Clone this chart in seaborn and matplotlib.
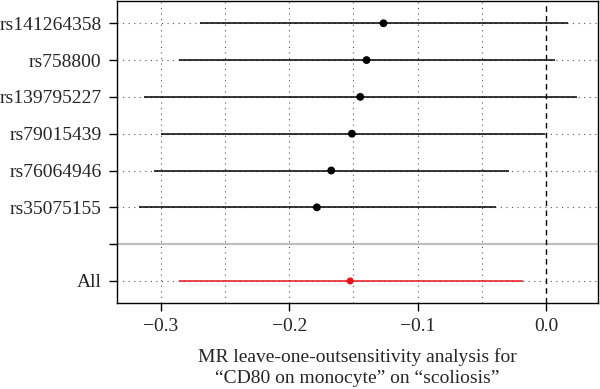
import matplotlib
matplotlib.use("Agg")
import matplotlib.pyplot as plt
import seaborn as sns
import pandas as pd

# leave-one-out estimates
snps = ["rs141264358", "rs758800", "rs139795227", "rs79015439",
        "rs76064946", "rs35075155", "All"]
b = [-0.1266, -0.1398, -0.1447, -0.1512, -0.1673, -0.1785, -0.1525]
lo = [-0.2698, -0.2861, -0.3134, -0.2996, -0.3056, -0.3173, -0.2861]
hi = [0.0174, 0.0070, 0.0239, -0.0005, -0.0286, -0.0392, -0.0182]
ypos = [8, 7, 6, 5, 4, 3, 1]
xticks = [-0.3, -0.2, -0.1, 0.0]

df = pd.DataFrame({"snp": snps, "b": b, "lo": lo, "hi": hi, "y": ypos})
df["kind"] = ["snp"] * 6 + ["all"]

sns.set_theme(style="white")
plt.rcParams["font.family"] = ["Liberation Serif", "DejaVu Serif"]
plt.rcParams["axes.unicode_minus"] = True

fig = plt.figure(figsize=(6, 3.89), dpi=100)
ax = fig.add_axes([0.1945, 0.221, 0.802, 0.776])

# dotted guide lines
for gx in [-0.3, -0.25, -0.2, -0.15, -0.1, -0.05]:
    ax.axvline(gx, color="#555555", lw=0.8, ls=(0, (1, 4)), zorder=0)
for gy in ypos:
    ax.axhline(gy, color="#555555", lw=0.8, ls=(0, (1, 4)), zorder=0)
ax.axhline(2, color="#bebebe", lw=1.6, zorder=1)
ax.axvline(0, color="black", lw=1.0, ls=(0, (4, 3)), zorder=1)

colors = {"snp": "black", "all": "#e8141c"}
for kind, sub in df.groupby("kind"):
    ax.hlines(sub["y"], sub["lo"], sub["hi"], color=colors[kind], lw=1.1, zorder=2)
sns.scatterplot(data=df[df.kind == "snp"], x="b", y="y", color="black", s=32,
                edgecolor="none", ax=ax, zorder=3, legend=False)
sns.scatterplot(data=df[df.kind == "all"], x="b", y="y", color="#e8141c", s=26,
                edgecolor="none", ax=ax, zorder=3, legend=False)

ax.set_xlim(-0.3345, 0.0405)
ax.set_ylim(0.4, 8.6)
ax.set_xticks(xticks)
ax.set_xticklabels([f"{v:.1f}".replace("-", "\u2212") for v in xticks])
ax.set_yticks(ypos[:6] + [2, 1])
ax.set_yticklabels(snps[:6] + ["", "All"])
ax.tick_params(axis="both", which="both", direction="out", length=6, width=1,
               color="black", labelsize=14, left=True, bottom=True, pad=5)
for sp in ax.spines.values():
    sp.set_color("black")
    sp.set_linewidth(1.0)
ax.set_ylabel("")
ax.set_xlabel("MR leave-one-outsensitivity analysis for\n\u201cCD80 on monocyte\u201d on \u201cscoliosis\u201d",
              fontsize=14, labelpad=9, linespacing=1.3)

fig.savefig("out.png", dpi=100)
